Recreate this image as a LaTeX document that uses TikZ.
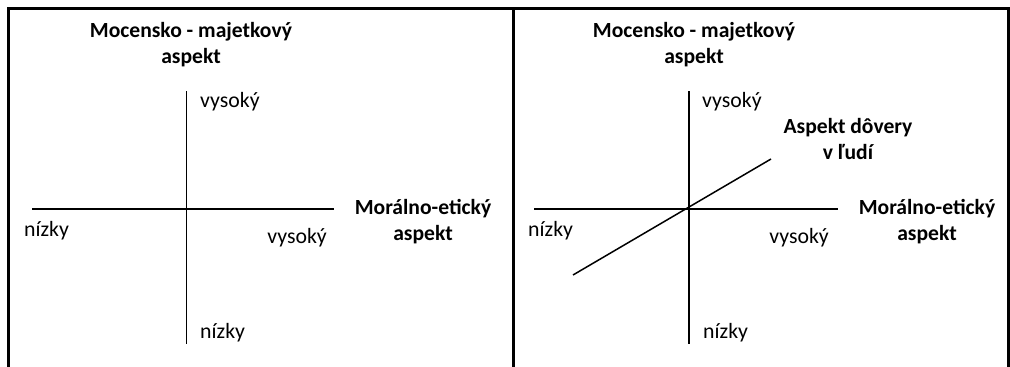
\documentclass[tikz,border=0pt]{standalone}
\usepackage{fontspec}
\setmainfont{Carlito}
\begin{document}
\begin{tikzpicture}[x=1pt,y=-1pt,
  axis/.style={line width=1.5pt,black},
  frame/.style={line width=3pt,black},
  lbl/.style={font=\fontsize{21.8}{26}\selectfont,inner sep=0pt},
  ttl/.style={font=\fontsize{21.6}{26}\selectfont\bfseries,align=center,inner sep=0pt}]
\useasboundingbox (0,0) rectangle (1010,367);
% outer frame and panel divider
\draw[frame] (8.5,367) -- (8.5,8.5) -- (1008.5,8.5) -- (1008.5,367);
\draw[frame] (513,8.5) -- (513,367);
% left panel
\coordinate (lt) at (186.5,91);
\coordinate (lb) at (186.5,344);
\coordinate (ll) at (32,209);
\coordinate (lr) at (334,209);
\draw[axis] (lt) -- (lb);
\draw[axis] (ll) -- (lr);
\node[ttl] (lmaj) at (191,45) {Mocensko - majetkový\\aspekt};
\node[lbl,anchor=west] (lvt) at (200,102) {vysoký};
\node[lbl,anchor=west] (lnl) at (24,231) {nízky};
\node[lbl,anchor=east] (lvr) at (327,238) {vysoký};
\node[ttl] (lmor) at (423,222) {Morálno-etický\\aspekt};
\node[lbl,anchor=west] (lnb) at (200,333) {nízky};
% right panel
\coordinate (rt) at (689,91);
\coordinate (rb) at (689,344);
\coordinate (rl) at (534,209);
\coordinate (rr) at (838,209);
\coordinate (dl) at (573,275);
\coordinate (du) at (771,159);
\draw[axis] (rt) -- (rb);
\draw[axis] (rl) -- (rr);
\draw[axis] (dl) -- (du);
\node[ttl] (rmaj) at (694,45) {Mocensko - majetkový\\aspekt};
\node[lbl,anchor=west] (rvt) at (702,102) {vysoký};
\node[ttl] (rdov) at (848,139) {Aspekt dôvery\\v ľudí};
\node[lbl,anchor=west] (rnl) at (528,231) {nízky};
\node[lbl,anchor=east] (rvr) at (829,238) {vysoký};
\node[ttl] (rmor) at (927,222) {Morálno-etický\\aspekt};
\node[lbl,anchor=west] (rnb) at (703,333) {nízky};
\end{tikzpicture}
\end{document}
